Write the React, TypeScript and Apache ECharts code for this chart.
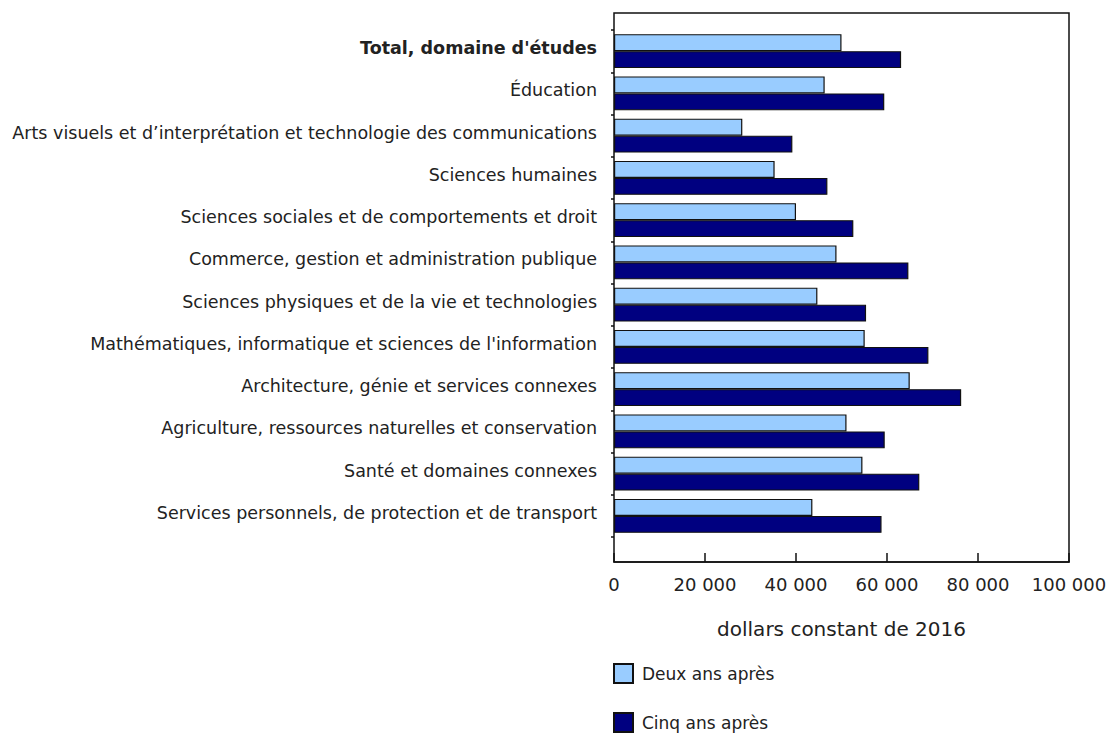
import React, { useEffect, useRef } from "react";
import * as echarts from "echarts";

const categories = [
  "Total, domaine d'études",
  "Éducation",
  "Arts visuels et d’interprétation et technologie des communications",
  "Sciences humaines",
  "Sciences sociales et de comportements et droit",
  "Commerce, gestion et administration publique",
  "Sciences physiques et de la vie et technologies",
  "Mathématiques, informatique et sciences de l'information",
  "Architecture, génie et services connexes",
  "Agriculture, ressources naturelles et conservation",
  "Santé et domaines connexes",
  "Services personnels, de protection et de transport",
];

const deuxAns = [50000, 46300, 28200, 35300, 40000, 48900, 44700, 55100, 65000, 51100, 54600, 43600];
const cinqAns = [63100, 59400, 39200, 46900, 52600, 64700, 55400, 69100, 76300, 59500, 67100, 58800];

const seriesNames = ["Deux ans après", "Cinq ans après"];
const axisTitle = "dollars constant de 2016";
const xTicks = [0, 20000, 40000, 60000, 80000, 100000];

const FONT = "'DejaVu Sans', Verdana, sans-serif";
const TXT = "#222";

function fmt(v: number): string {
  return String(v).replace(/\B(?=(\d{3})+(?!\d))/g, " ");
}

export default function App() {
  const ref = useRef<HTMLDivElement>(null);
  useEffect(() => {
    document.body.style.margin = "0";
    if (!ref.current) return;
    const chart = echarts.init(ref.current, null, { renderer: "svg" });
    const L = 614, W = 455;
    const legendBase = {
      orient: "vertical",
      left: 613,
      padding: 0,
      itemWidth: 19,
      itemHeight: 19,
      icon: "rect",
      textStyle: { fontFamily: FONT, fontSize: 17, color: TXT, padding: [0, 0, 0, 4] },
    };
    chart.setOption({
      animation: false,
      textStyle: { fontFamily: FONT, color: TXT },
      grid: [
        { left: L, top: 13, width: W, height: 549, show: true, borderColor: "#111", borderWidth: 1.5, backgroundColor: "transparent", containLabel: false },
        { left: L, top: 30, width: W, height: 507, containLabel: false },
      ],
      legend: [
        { ...legendBase, top: 663, data: [seriesNames[0]] },
        { ...legendBase, top: 712, data: [seriesNames[1]] },
      ],
      xAxis: [
        {
          gridIndex: 0,
          type: "value",
          min: xTicks[0],
          max: xTicks[xTicks.length - 1],
          interval: xTicks[1] - xTicks[0],
          axisLine: { show: true, lineStyle: { color: "#111", width: 1.5 } },
          axisTick: { show: true, inside: true, length: 9, lineStyle: { color: "#111", width: 1.5 } },
          splitLine: { show: false },
          axisLabel: { margin: 13, fontSize: 18, color: TXT, fontFamily: FONT, formatter: (v: number) => fmt(v) },
          name: axisTitle,
          nameLocation: "middle",
          nameGap: 57,
          nameTextStyle: { fontSize: 20, color: TXT, fontFamily: FONT },
        },
        { gridIndex: 1, type: "value", min: 0, max: 100000, show: false },
      ],
      yAxis: [
        { gridIndex: 0, type: "value", min: 0, max: 1, show: false },
        {
          gridIndex: 1,
          type: "category",
          data: categories,
          inverse: true,
          axisLine: { show: false },
          axisTick: { show: true, length: 3, lineStyle: { color: "#111", width: 1.5 } },
          axisLabel: {
            margin: 17,
            fontSize: 17.5,
            color: TXT,
            fontFamily: FONT,
            padding: [0, 0, 6, 0],
            formatter: (v: string, i: number) => (i === 0 ? `{b|${v}}` : v),
            rich: { b: { fontWeight: "bold", fontSize: 17.5, color: TXT, fontFamily: FONT } },
          },
        },
      ],
      series: [
        {
          name: seriesNames[0],
          type: "bar",
          xAxisIndex: 1,
          yAxisIndex: 1,
          data: deuxAns,
          barGap: "0%",
          barCategoryGap: "19.6%",
          itemStyle: { color: "#99CCFF", borderColor: "#111", borderWidth: 1.2 },
        },
        {
          name: seriesNames[1],
          type: "bar",
          xAxisIndex: 1,
          yAxisIndex: 1,
          data: cinqAns,
          barGap: "0%",
          barCategoryGap: "19.6%",
          itemStyle: { color: "#000080", borderColor: "#111", borderWidth: 1.2 },
        },
      ],
    });
    return () => chart.dispose();
  }, []);
  return <div ref={ref} style={{ width: 1113, height: 734 }} />;
}
